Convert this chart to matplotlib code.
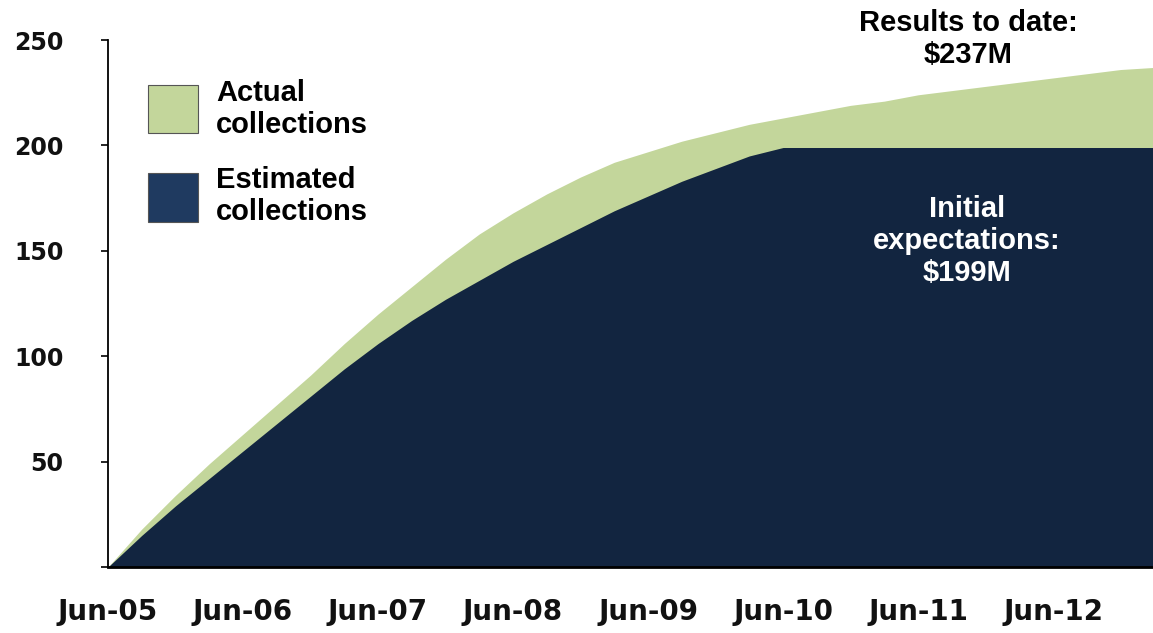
import matplotlib
matplotlib.use("Agg")
import matplotlib.pyplot as plt
from matplotlib.patches import Rectangle

# Cumulative collections ($M), sampled quarterly from Jun-05
quarters = [0.0, 0.25, 0.5, 0.75, 1.0, 1.25, 1.5, 1.75, 2.0, 2.25, 2.5, 2.75,
            3.0, 3.25, 3.5, 3.75, 4.0, 4.25, 4.5, 4.75, 5.0, 5.25, 5.5, 5.75,
            6.0, 6.25, 6.5, 6.75, 7.0, 7.25, 7.5, 7.75]
estimated = [0, 15, 29, 42, 55, 68, 81, 94, 106, 117, 127, 136,
             145, 153, 161, 169, 176, 183, 189, 195, 199, 199, 199, 199,
             199, 199, 199, 199, 199, 199, 199, 199]
actual = [0, 18, 34, 49, 63, 77, 91, 106, 120, 133, 146, 158,
          168, 177, 185, 192, 197, 202, 206, 210, 213, 216, 219, 221,
          224, 226, 228, 230, 232, 234, 236, 237]

tick_years = [0, 1, 2, 3, 4, 5, 6, 7]
tick_labels = ["Jun-05", "Jun-06", "Jun-07", "Jun-08",
               "Jun-09", "Jun-10", "Jun-11", "Jun-12"]
y_ticks = [0, 50, 100, 150, 200, 250]
y_labels = ["", "50", "100", "150", "200", "250"]

GREEN = "#c3d69b"
NAVY = "#122540"
NAVY_KEY = "#1f3a60"

W, H = 1153, 633
fig = plt.figure(figsize=(W / 100, H / 100), dpi=100)
ax = fig.add_axes([108 / W, (H - 567) / H, (W - 108) / W, (567 - 40) / H])

ax.fill_between(quarters, 0, actual, color=GREEN, lw=0)
ax.fill_between(quarters, 0, estimated, color=NAVY, lw=0)

ax.set_xlim(0, 7.74)
ax.set_ylim(0, 250)

ax.set_xticks(tick_years)
ax.set_xticklabels(tick_labels)
ax.set_yticks(y_ticks)
ax.set_yticklabels(y_labels)

ax.tick_params(axis="x", length=0, pad=22, labelsize=20)
ax.tick_params(axis="y", length=5, width=1.2, direction="out", pad=27, labelsize=17)
for lab in ax.get_xticklabels() + ax.get_yticklabels():
    lab.set_fontfamily("DejaVu Sans")
    lab.set_fontweight("bold")
    lab.set_color("#111111")

for side in ("top", "right"):
    ax.spines[side].set_visible(False)
ax.spines["left"].set_linewidth(1.3)
ax.spines["bottom"].set_linewidth(2.0)
ax.set_facecolor("white")

# Legend keys and labels
def key(x0, y0, w, h, color):
    fig.add_artist(Rectangle((x0 / W, 1 - (y0 + h) / H), w / W, h / H,
                             transform=fig.transFigure, facecolor=color,
                             edgecolor="#555555", lw=0.8))

key(148, 85, 50, 48, GREEN)
key(148, 173, 50, 49, NAVY_KEY)
txt = dict(family="Liberation Sans", fontweight="bold", fontsize=21,
           transform=fig.transFigure, va="center", ha="left")
fig.text(216 / W, 1 - 109 / H, "Actual\ncollections", **txt)
fig.text(216 / W, 1 - 196 / H, "Estimated\ncollections", **txt)

# Callouts
ax.text(968 / W, 1 - 39 / H, "Results to date:\n$237M", transform=fig.transFigure,
        family="Liberation Sans", fontweight="bold", fontsize=21,
        ha="center", va="center", color="black")
ax.text(967 / W, 1 - 241 / H, "Initial\nexpectations:\n$199M", transform=fig.transFigure,
        family="Liberation Sans", fontweight="bold", fontsize=21,
        ha="center", va="center", color="white")

fig.savefig("out.png", dpi=100)
